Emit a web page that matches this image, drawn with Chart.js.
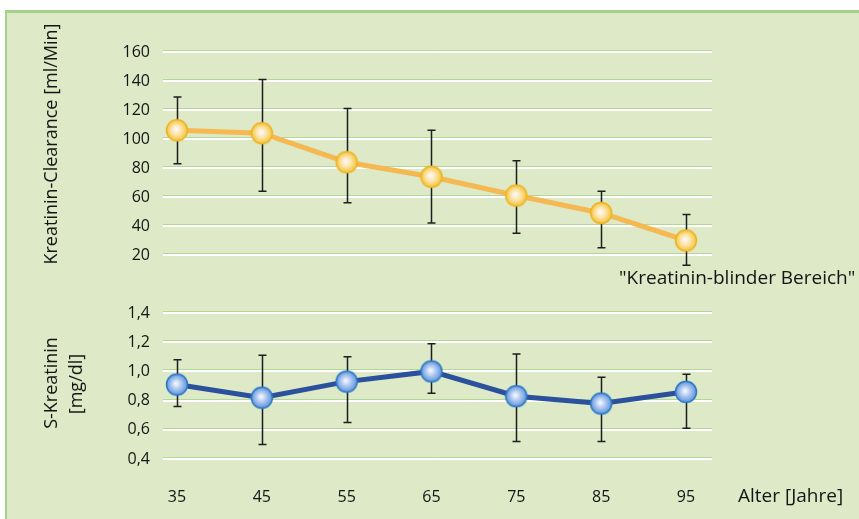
<!DOCTYPE html>
<html>
<head>
<meta charset="utf-8">
<script src="https://cdn.jsdelivr.net/npm/chart.js@4.4.1/dist/chart.umd.min.js"></script>
<style>
  body { margin: 0; background: #fff; overflow: hidden; }
  #frame { position: absolute; left: 5px; top: 10px; width: 870px; height: 520px; background: #dde9c7; border-left: 2px solid #a3d388; border-top: 3px solid #a3d388; }
  canvas { position: absolute; left: 0; top: 0; }
</style>
</head>
<body>
<div id="frame"></div>
<canvas id="topChart" width="859" height="519"></canvas>
<canvas id="bottomChart" width="859" height="519"></canvas>
<script>
const ages = [35, 45, 55, 65, 75, 85, 95];

const clearance = [106, 104, 84, 74, 61, 49, 30];
const clearanceHigh = [129, 141, 121, 106, 85, 64, 48];
const clearanceLow = [83, 64, 56, 42, 35, 25, 13];
const clearanceTicks = [20, 40, 60, 80, 100, 120, 140, 160];

const creatinine = [0.91, 0.82, 0.93, 1.0, 0.83, 0.78, 0.86];
const creatinineHigh = [1.08, 1.11, 1.10, 1.19, 1.12, 0.96, 0.98];
const creatinineLow = [0.76, 0.50, 0.65, 0.85, 0.52, 0.52, 0.61];
const creatinineTicks = [0.4, 0.6, 0.8, 1.0, 1.2, 1.4];

const FONT = "'Open Sans', sans-serif";

// little shaded ball used as point marker
function sphere(center, mid, edge, ring) {
    var c = document.createElement("canvas");
    c.width = 24; c.height = 24;
    var g = c.getContext("2d");
    var grad = g.createRadialGradient(11, 11, 1, 12, 12, 11);
    grad.addColorStop(0, center);
    grad.addColorStop(0.45, mid);
    grad.addColorStop(1, edge);
    g.fillStyle = grad;
    g.beginPath();
    g.arc(12, 12, 10.5, 0, Math.PI * 2);
    g.fill();
    g.lineWidth = 1.5;
    g.strokeStyle = ring;
    g.stroke();
    return c;
}

// green line above each white gridline
const gridShadow = {
    id: "gridShadow",
    beforeDatasetsDraw(chart) {
        let ctx = chart.ctx, y = chart.scales.y, area = chart.chartArea;
        ctx.save();
        ctx.strokeStyle = "#b2d898";
        ctx.lineWidth = 1;
        y.ticks.forEach(t => {
            let py = Math.round(y.getPixelForValue(t.value)) - 1.5;
            ctx.beginPath();
            ctx.moveTo(area.left, py);
            ctx.lineTo(area.right, py);
            ctx.stroke();
        });
        ctx.restore();
    }
};

const errorBars = {
    id: "errorBars",
    beforeDatasetsDraw(chart, args, opts) {
        let ctx = chart.ctx, x = chart.scales.x, y = chart.scales.y;
        ctx.save();
        ctx.strokeStyle = "#1e1e1e";
        ctx.lineWidth = 1.5;
        ages.forEach((a, i) => {
            let px = Math.round(x.getPixelForValue(a)) + 0.5;
            let top = y.getPixelForValue(opts.high[i]);
            let bot = y.getPixelForValue(opts.low[i]);
            ctx.beginPath();
            ctx.moveTo(px, top); ctx.lineTo(px, bot);
            ctx.moveTo(px - 4, top); ctx.lineTo(px + 4, top);
            ctx.moveTo(px - 4, bot); ctx.lineTo(px + 4, bot);
            ctx.stroke();
        });
        ctx.restore();
    }
};

const texts = {
    id: "texts",
    afterDraw(chart, args, opts) {
        let ctx = chart.ctx;
        opts.items.forEach(it => {
            ctx.save();
            ctx.fillStyle = "#141414";
            ctx.font = it.size + "px " + FONT;
            ctx.textAlign = it.align || "center";
            ctx.textBaseline = "middle";
            ctx.translate(it.x, it.y);
            if (it.rotate) ctx.rotate(-Math.PI / 2);
            ctx.fillText(it.text, 0, 0);
            ctx.restore();
        });
    }
};

function xAxis(show) {
    return {
        type: "linear",
        min: 33.35,
        max: 98.07,
        display: show,
        afterBuildTicks: s => { s.ticks = ages.map(v => ({ value: v })); },
        afterFit: s => { s.height = show ? 60 : 0; },
        grid: { display: false, drawTicks: false },
        border: { display: false },
        ticks: { padding: 29, autoSkip: false, color: "#141414", font: { family: FONT, size: 16 } }
    };
}

function yAxis(min, max, tickList, fmt) {
    return {
        min: min,
        max: max,
        afterBuildTicks: s => { s.ticks = tickList.map(v => ({ value: v })); },
        afterFit: s => { s.width = 163; },
        grid: { color: "#ffffff", lineWidth: 2, drawTicks: false },
        border: { display: false },
        ticks: { padding: 13, autoSkip: false, color: "#141414", font: { family: FONT, size: 16 }, callback: fmt }
    };
}

new Chart(document.getElementById("topChart"), {
    type: "line",
    data: {
        datasets: [{
            data: ages.map((a, i) => ({ x: a, y: clearance[i] })),
            borderColor: "#f5b852",
            borderWidth: 5,
            pointStyle: sphere("#fff6f4", "#fbe3a0", "#f4bf34", "#eeb420"),
            clip: false
        }]
    },
    options: {
        responsive: false,
        animation: false,
        layout: { padding: { left: 0, top: 52, right: 147, bottom: 264 } },
        scales: {
            x: xAxis(false),
            y: yAxis(20, 160, clearanceTicks, v => v)
        },
        plugins: {
            legend: { display: false },
            tooltip: { enabled: false },
            errorBars: { high: clearanceHigh, low: clearanceLow },
            texts: { items: [
                { text: "Kreatinin-Clearance [ml/Min]", x: 52, y: 144, size: 18, rotate: true },
                { text: "\"Kreatinin-blinder Bereich\"", x: 619, y: 279, size: 19, align: "left" }
            ] }
        }
    },
    plugins: [gridShadow, errorBars, texts]
});

new Chart(document.getElementById("bottomChart"), {
    type: "line",
    data: {
        datasets: [{
            data: ages.map((a, i) => ({ x: a, y: creatinine[i] })),
            borderColor: "#2b509c",
            borderWidth: 5,
            pointStyle: sphere("#eef3ff", "#a8c4ef", "#5b8fd8", "#2878c6"),
            clip: false
        }]
    },
    options: {
        responsive: false,
        animation: false,
        layout: { padding: { left: 0, top: 313, right: 147, bottom: 0 } },
        scales: {
            x: xAxis(true),
            y: yAxis(0.4, 1.4, creatinineTicks, v => v.toFixed(1).replace(".", ","))
        },
        plugins: {
            legend: { display: false },
            tooltip: { enabled: false },
            errorBars: { high: creatinineHigh, low: creatinineLow },
            texts: { items: [
                { text: "S-Kreatinin", x: 52, y: 383, size: 18, rotate: true },
                { text: "[mg/dl]", x: 77, y: 384, size: 18, rotate: true },
                { text: "Alter [Jahre]", x: 738, y: 497, size: 19, align: "left" }
            ] }
        }
    },
    plugins: [gridShadow, errorBars, texts]
});
</script>
</body>
</html>
